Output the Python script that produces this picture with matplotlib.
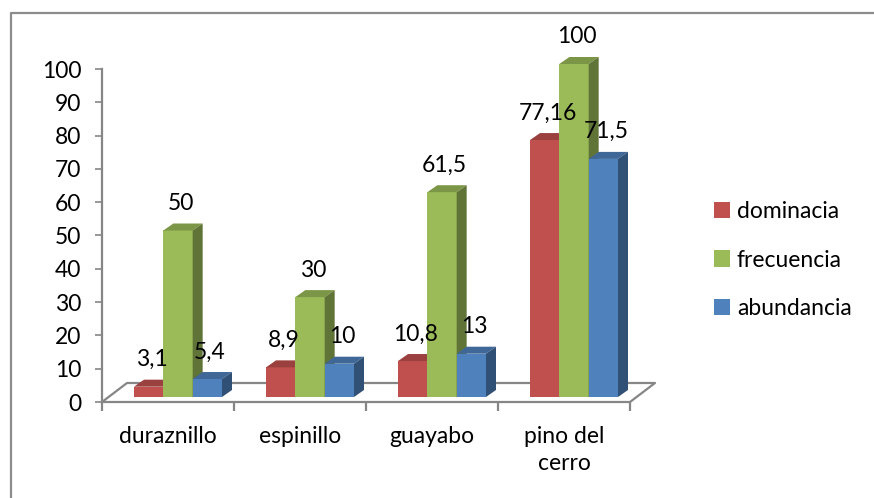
import matplotlib.pyplot as plt
from matplotlib.patches import Polygon, Patch
from matplotlib.lines import Line2D
from matplotlib.colors import to_rgb

categorias = ["duraznillo", "espinillo", "guayabo", "pino del\ncerro"]
dominacia = [3.1, 8.9, 10.8, 77.16]
frecuencia = [50, 30, 61.5, 100]
abundancia = [5.4, 10, 13, 71.5]
series = ["dominacia", "frecuencia", "abundancia"]
colores = ["#C0504D", "#9BBB59", "#4F81BD"]

plt.rcParams['font.family'] = ['Lato', 'DejaVu Sans']
GRIS = "#868686"
FS = 16.5

fig = plt.figure(figsize=(8.74, 4.98), dpi=100)
ax = fig.add_axes([102/874, 96/498, 528/874, 333/498])
ax.set_xlim(-0.5, len(categorias) - 0.5)
ax.set_ylim(0, 100)

# pixel -> data
px_x = len(categorias) / 528
px_y = 100 / 333


def oscuro(c, f):
    return tuple(v * f for v in to_rgb(c))


# floor of the 3d box
fx, fy = 25 * px_x, 19 * px_y
x0, x1 = -0.5, len(categorias) - 0.5
ax.plot([x0, x1, x1 + fx, x0 + fx, x0], [0, 0, fy, fy, 0],
        color=GRIS, lw=1.6, clip_on=False, zorder=1)

ancho = 88 * px_x / 3
sx, sy = 10 * px_x, 5 * px_y   # bars sit a bit behind the front
dx, dy = 10 * px_x, 7 * px_y   # bar depth

for j, (nombre, vals, col) in enumerate(zip(series, [dominacia, frecuencia, abundancia], colores)):
    xs = [i + sx + (j - 1) * ancho for i in range(len(categorias))]
    barras = ax.bar(xs, vals, width=ancho, bottom=sy, color=col, lw=0, zorder=3 + j)
    for b in barras:
        b.set_clip_on(False)
    for x, v in zip(xs, vals):
        l, r = x - ancho / 2, x + ancho / 2
        top = v + sy
        ax.add_patch(Polygon([(l, top), (r, top), (r + dx, top + dy), (l + dx, top + dy)],
                             closed=True, fc=oscuro(col, 0.8), lw=0, zorder=3 + j, clip_on=False))
        ax.add_patch(Polygon([(r, sy), (r + dx, sy + dy), (r + dx, top + dy), (r, top)],
                             closed=True, fc=oscuro(col, 0.62), lw=0, zorder=3 + j, clip_on=False))
        ax.annotate(f"{v:g}".replace('.', ','), (x, top), xytext=(2, 19.5),
                    textcoords='offset points', ha='center', va='center',
                    fontsize=FS, zorder=10, annotation_clip=False)

for s in ['top', 'right', 'bottom']:
    ax.spines[s].set_visible(False)
ax.spines['left'].set_color(GRIS)
ax.spines['left'].set_linewidth(1.6)

ax.set_yticks(range(0, 101, 10))
ax.tick_params(axis='y', length=5, width=1.2, color=GRIS, pad=10, labelsize=FS)
ax.set_xticks([i - 0.5 for i in range(len(categorias) + 1)])
ax.set_xticklabels([])
ax.tick_params(axis='x', which='major', length=6.5, width=1.6, color=GRIS)
ax.set_xticks(range(len(categorias)), minor=True)
ax.set_xticklabels(categorias, minor=True, fontsize=FS, linespacing=1.4, va='top')
ax.tick_params(axis='x', which='minor', length=0, pad=17)
ax.set_facecolor('none')

handles = [Patch(facecolor=c, edgecolor='none') for c in colores]
fig.legend(handles, series, loc='center left', bbox_to_anchor=(714/874, 1 - 260/498),
           frameon=False, fontsize=FS, handlelength=0.7, handleheight=0.7,
           handletextpad=0.3, labelspacing=1.2, borderpad=0, borderaxespad=0)

fig.add_artist(Line2D([11/874, 11/874, 1], [0, 1 - 13/498, 1 - 13/498],
                      transform=fig.transFigure, color="#8c8c8c", lw=1.6))

fig.savefig("out.png", dpi=100)
